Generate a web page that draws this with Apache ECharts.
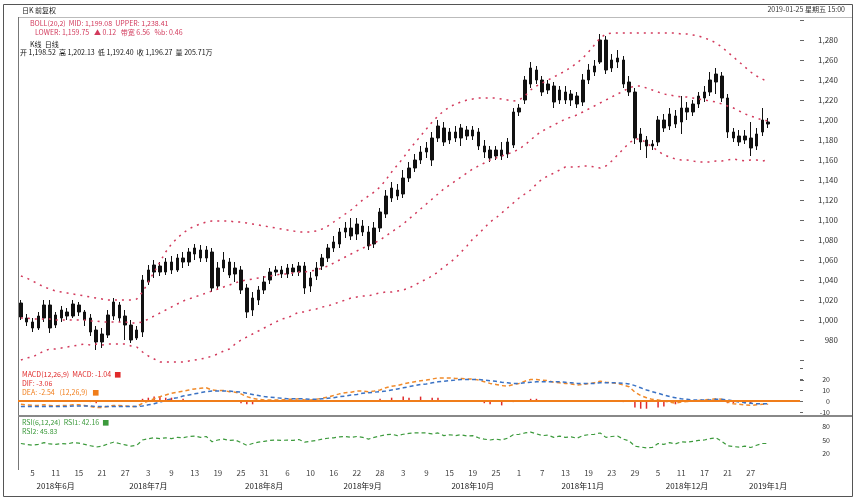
<!DOCTYPE html>
<html>
<head>
<meta charset="utf-8">
<script src="https://cdn.jsdelivr.net/npm/echarts@6/dist/echarts.min.js"></script>
<style>
  html, body { margin: 0; padding: 0; background: #fff; }
  #chart { width: 861px; height: 501px; }
</style>
</head>
<body>
<div id="chart"></div>
<script>
  // 日K：[开, 收, 低, 高]
  var ohlc = [
    [1003,1017,1000,1020],[1002,998,994,1006],[998,992,988,1002],[992,1004,990,1008],[1002,1015,998,1020],
    [1015,992,987,1020],[995,1005,992,1008],[1002,1010,998,1014],[1008,1004,1000,1012],[1004,1016,1002,1020],
    [1015,1008,1004,1018],[1008,1000,994,1010],[1002,988,984,1006],[990,978,970,994],[978,986,972,992],
    [985,1005,982,1010],[1004,1018,1000,1022],[1015,1002,998,1018],[1004,995,980,1010],[995,980,977,1000],
    [982,990,980,994],[988,1040,983,1045],[1038,1050,1035,1055],[1048,1055,1042,1060],[1054,1048,1044,1058],
    [1048,1058,1045,1062],[1058,1050,1046,1064],[1050,1062,1048,1066],[1062,1058,1052,1068],[1058,1068,1054,1072],
    [1066,1072,1060,1076],[1070,1062,1058,1075],[1062,1070,1058,1074],[1068,1032,1028,1072],[1034,1052,1030,1058],
    [1052,1060,1048,1068],[1058,1045,1042,1062],[1046,1052,1038,1058],[1050,1030,1026,1054],[1032,1008,1002,1036],
    [1010,1022,1004,1028],[1020,1030,1015,1034],[1030,1038,1026,1044],[1040,1048,1036,1052],[1048,1050,1044,1054],
    [1050,1046,1042,1054],[1046,1052,1042,1056],[1052,1048,1044,1056],[1048,1054,1044,1058],[1054,1032,1026,1058],
    [1034,1042,1028,1048],[1044,1052,1040,1058],[1054,1062,1050,1066],[1062,1072,1058,1076],[1072,1078,1068,1084],
    [1076,1088,1072,1092],[1088,1092,1082,1098],[1092,1084,1080,1102],[1086,1096,1080,1102],[1094,1088,1084,1100],
    [1088,1074,1070,1094],[1076,1092,1072,1098],[1092,1108,1088,1112],[1106,1124,1102,1130],[1122,1132,1118,1138],
    [1130,1124,1120,1136],[1126,1142,1122,1150],[1142,1152,1138,1158],[1152,1160,1148,1166],[1160,1168,1156,1174],
    [1168,1172,1162,1178],[1160,1182,1154,1188],[1182,1194,1178,1200],[1192,1178,1174,1198],[1180,1188,1176,1192],
    [1188,1182,1178,1194],[1182,1192,1174,1196],[1190,1184,1180,1194],[1184,1190,1180,1194],[1188,1174,1170,1192],
    [1174,1168,1162,1180],[1170,1162,1158,1174],[1164,1170,1160,1174],[1170,1164,1160,1178],[1166,1178,1162,1182],
    [1175,1208,1172,1212],[1208,1212,1204,1216],[1220,1240,1216,1244],[1236,1252,1232,1258],[1250,1240,1236,1254],
    [1240,1228,1224,1244],[1230,1236,1226,1240],[1234,1218,1212,1238],[1220,1230,1216,1234],[1228,1220,1216,1234],
    [1220,1226,1214,1230],[1224,1216,1212,1228],[1218,1240,1214,1246],[1240,1250,1236,1256],[1248,1254,1244,1260],
    [1258,1280,1256,1286],[1280,1250,1246,1284],[1252,1260,1248,1266],[1258,1262,1252,1270],[1260,1236,1232,1264],
    [1238,1228,1224,1244],[1228,1182,1176,1232],[1186,1178,1170,1192],[1180,1174,1162,1184],[1174,1176,1170,1180],
    [1178,1200,1174,1204],[1200,1192,1188,1206],[1194,1206,1190,1212],[1204,1196,1192,1210],[1198,1212,1186,1224],
    [1212,1208,1200,1218],[1208,1216,1204,1220],[1216,1224,1212,1228],[1222,1228,1218,1234],[1228,1240,1224,1248],
    [1238,1246,1226,1252],[1244,1222,1218,1248],[1222,1188,1182,1226],[1188,1182,1178,1192],[1184,1178,1174,1190],
    [1180,1184,1176,1190],[1182,1172,1164,1198],[1174,1186,1170,1192],[1188,1200,1184,1212],[1198,1196,1192,1202]
  ];

  // BOLL 上轨 / 中轨 / 下轨
  var bollUpper = [
    1044,1042,1039,1036,1033,1031,1029,1028,1027,1026,
    1025,1024,1023,1022,1021,1020,1020,1020,1020,1020,
    1021,1028,1038,1048,1058,1068,1076,1082,1087,1091,
    1094,1096,1098,1099,1099,1099,1099,1098,1098,1097,
    1096,1095,1094,1093,1092,1091,1090,1089,1088,1088,
    1088,1089,1091,1094,1098,1102,1106,1110,1115,1120,
    1124,1128,1133,1140,1148,1155,1162,1170,1177,1184,
    1191,1198,1204,1209,1213,1216,1218,1220,1221,1222,
    1222,1222,1222,1221,1220,1219,1220,1224,1230,1234,
    1237,1240,1243,1246,1249,1253,1257,1262,1268,1275,
    1282,1286,1287,1287,1287,1287,1287,1287,1287,1287,
    1287,1287,1287,1287,1286,1286,1285,1284,1282,1280,
    1277,1273,1268,1263,1258,1253,1248,1244,1241,1238
  ];
  var bollMid = [
    1002,1002,1001,1001,1001,1001,1000,1000,1000,1000,
    1000,1000,999,999,998,998,998,998,998,997,
    997,998,1001,1004,1007,1010,1013,1016,1019,1021,
    1023,1025,1027,1029,1031,1033,1035,1037,1039,1040,
    1041,1042,1043,1044,1045,1046,1046,1047,1048,1048,
    1049,1050,1052,1054,1057,1060,1063,1066,1069,1072,
    1074,1077,1080,1084,1088,1092,1096,1101,1106,1111,
    1116,1121,1126,1131,1135,1139,1143,1147,1151,1154,
    1157,1160,1162,1164,1166,1168,1171,1175,1180,1185,
    1189,1192,1195,1198,1201,1203,1205,1208,1211,1214,
    1217,1220,1223,1226,1229,1232,1234,1234,1232,1230,
    1228,1226,1225,1224,1223,1223,1222,1221,1220,1219,
    1218,1216,1214,1212,1209,1206,1204,1202,1200,1199
  ];
  var bollLower = [
    960,962,963,966,969,971,971,972,973,974,
    975,976,975,976,975,976,976,976,976,974,
    973,968,964,961,958,958,958,958,958,959,
    960,961,962,964,966,969,971,976,980,983,
    986,989,992,995,998,1001,1002,1005,1008,1008,
    1010,1011,1013,1014,1016,1018,1020,1022,1023,1024,
    1024,1026,1027,1028,1028,1029,1030,1032,1035,1038,
    1041,1044,1048,1053,1057,1062,1068,1074,1081,1086,
    1092,1098,1102,1107,1112,1117,1122,1126,1130,1136,
    1141,1144,1147,1150,1153,1153,1153,1154,1154,1153,
    1152,1154,1159,1165,1171,1177,1181,1181,1177,1173,
    1169,1165,1163,1161,1160,1160,1159,1158,1158,1158,
    1159,1159,1160,1161,1160,1159,1160,1160,1159,1160
  ];

  // MACD
  var dif = [
    -3,-3.5,-4,-4,-3.5,-4,-4.5,-4,-4,-3.5,
    -3.5,-4,-5,-6,-6,-5,-4,-4,-4.5,-5,
    -5,-2,0,2,4,5.5,7,8,9,10,
    11,11.5,12,10,9.5,9.5,8.5,8,6.5,4,
    2.5,1.5,1,1,1,1,1.5,1.5,2,1,
    1,1.5,2.5,3.5,5,6.5,7.5,8,9,9,
    8.5,9,10,12,13.5,14,15.5,16.5,17.5,18.5,
    19,20,21,21,21,20.5,20.5,20,20,19,
    17.5,16,15,14,13.5,15,16,18,19.5,19.5,
    19,18.5,17,16.5,16,15.5,14.5,15,16,16.5,
    18,17,16.5,16,14.5,13,8,5,3,1.5,
    1,0,-1,-2,-1,-0.5,0,0.5,1,1.5,
    2,1.5,-1,-2.5,-3,-3.5,-4,-3.5,-3,-3
  ];
  var dea = [
    -5,-5,-5,-5,-5,-5,-5,-5,-5,-4.5,
    -4.5,-4.5,-4.5,-5,-5,-5,-5,-5,-5,-5,
    -5,-4.5,-3.5,-2.5,-1,0.5,2,3,4.5,5.5,
    6.5,7.5,8.5,9,9,9,9,8.5,8,7,
    6,5,4,3.5,3,2.5,2,2,2,2,
    1.5,1.5,2,2.5,3,4,4.5,5.5,6,7,
    7.5,8,8.5,9,10,11,12,13,14,15,
    15.5,16.5,17.5,18,18.5,19,19.5,19.5,19.5,19.5,
    19,18.5,18,17,16.5,16,16,16.5,17,17.5,
    17.5,17.5,17.5,17.5,17,16.5,16,16,16,16,
    16.5,16.5,16.5,16.5,16,15.5,14,12,10,8.5,
    7,5.5,4,3,2,1.5,1,1,1,1,
    1.5,1.5,1,0,-1,-1.5,-2,-2.5,-2.5,-2.5
  ];
  var macdBar = [
    0,0,0,0,0,0,0,0,0,0,
    0,0,-1,-2,0,0,0,0,0,0,
    0,2,3,4,4,3,3,0,2,0,
    0,0,0,-1,0,0,0,0,-2,-3,
    -3,0,0,0,0,0,0,0,0,0,
    0,0,0,1,0,0,0,0,0,0,
    0,0,2,0,3,0,4,3,0,4,
    0,3,3,0,0,0,0,0,0,0,
    -2,-3,0,-4,0,-1,0,0,2,2,
    0,0,0,0,0,0,-1,0,0,0,
    1,0,0,0,-1,0,-6,-7,-7,0,
    -6,-5,0,-3,0,0,0,0,1,0,
    0,0,-2,-2,0,-2,-2,0,0,0
  ];

  // RSI
  var rsi = [
    42,40,38,40,44,41,40,42,41,44,
    43,40,37,34,36,41,45,42,39,36,
    38,50,53,55,53,55,53,56,55,58,
    59,56,58,46,50,52,49,50,44,38,
    42,45,47,49,50,49,50,49,51,45,
    47,49,52,54,55,57,58,56,58,56,
    52,56,59,62,63,60,63,65,66,66,
    66,64,66,60,62,60,62,59,60,55,
    52,50,52,50,54,62,63,66,68,64,
    60,61,56,59,56,57,54,60,62,63,
    66,56,58,59,52,48,36,34,32,33,
    42,40,44,41,46,45,47,49,50,53,
    55,47,37,35,34,36,33,38,42,42
  ];

  // 横轴刻度：每4根K线一个日期，月份标签
  var dayTicks = [5,11,15,21,27,3,9,13,19,25,31,6,10,16,22,28,3,9,15,19,25,1,7,13,19,23,29,5,11,17,21,27];
  var monthIdx = [6,22,42,59,78,97,115,129];
  var monthNames = ['2018年6月','2018年7月','2018年8月','2018年9月','2018年10月','2018年11月','2018年12月','2019年1月'];

  var categories = [];
  for (var i = 0; i < ohlc.length + 5; i++) categories.push(String(i));

  var FONT = '"Noto Sans CJK SC", "Noto Sans", sans-serif';
  var RED = '#d23a5c';

  function xLabel(v, idx) {
    var day = (idx % 4 === 2) ? dayTicks[(idx - 2) / 4] : undefined;
    var m = monthIdx.indexOf(idx);
    var top = day !== undefined ? '{d|' + day + '}' : '{d| }';
    if (m >= 0) return top + '\n{m|' + monthNames[m] + '}';
    return day !== undefined ? top : '';
  }

  function txt(text, x, y, color, size, extra) {
    var s = { text: text, x: x, y: y, fill: color, font: (size || 7) + 'px ' + FONT };
    if (extra) for (var k in extra) s[k] = extra[k];
    return { type: 'text', z: 10, style: s };
  }

  var chart = echarts.init(document.getElementById('chart'));
  chart.setOption({
    animation: false,
    backgroundColor: '#fff',
    textStyle: { fontFamily: FONT },
    grid: [
      { left: 18, right: 61, top: 20, height: 360 },
      { left: 18, right: 61, top: 368, height: 44 },
      { left: 18, right: 61, top: 418, height: 44 }
    ],
    xAxis: [
      { type: 'category', gridIndex: 0, data: categories, axisLine: { show: false }, axisTick: { show: false }, axisLabel: { show: false } },
      { type: 'category', gridIndex: 1, data: categories, axisLine: { show: false }, axisTick: { show: false }, axisLabel: { show: false } },
      {
        type: 'category', gridIndex: 2, data: categories,
        axisLine: { show: false }, axisTick: { show: false },
        axisLabel: {
          interval: 0, margin: 4, formatter: xLabel,
          rich: {
            d: { fontSize: 8, color: '#444', lineHeight: 13, fontFamily: FONT },
            m: { fontSize: 8, color: '#222', lineHeight: 13, fontFamily: FONT }
          }
        }
      }
    ],
    yAxis: [
      {
        type: 'value', gridIndex: 0, position: 'right', min: 940, max: 1300, interval: 20,
        axisLine: { show: false }, splitLine: { show: false },
        axisTick: { show: true, length: 4, lineStyle: { color: '#666' } },
        axisLabel: {
          align: 'right', margin: 38, fontSize: 8, color: '#333',
          formatter: function (v) { return (v < 980 || v > 1280) ? '' : v.toLocaleString('en-US'); }
        }
      },
      {
        type: 'value', gridIndex: 1, position: 'right', min: -10, max: 30, interval: 10,
        axisLine: { show: false }, splitLine: { show: false },
        axisTick: { show: true, length: 3, lineStyle: { color: '#666' } },
        axisLabel: {
          align: 'right', margin: 30, fontSize: 7, color: '#333',
          formatter: function (v) { return v === 30 ? '' : String(v); }
        }
      },
      {
        type: 'value', gridIndex: 2, position: 'right', min: 0, max: 100, interval: 10,
        axisLine: { show: false }, splitLine: { show: false }, axisTick: { show: false },
        axisLabel: {
          align: 'right', margin: 30, fontSize: 7, color: '#333',
          formatter: function (v) { return (v === 20 || v === 50 || v === 80) ? String(v) : ''; }
        }
      }
    ],
    series: [
      {
        name: 'K线', type: 'candlestick', xAxisIndex: 0, yAxisIndex: 0, data: ohlc, barWidth: 3,
        itemStyle: { color: '#111', color0: '#111', borderColor: '#111', borderColor0: '#111', borderWidth: 1 }
      },
      { name: 'UPPER', type: 'line', xAxisIndex: 0, yAxisIndex: 0, data: bollUpper, symbol: 'none',
        lineStyle: { color: RED, width: 1.5, type: [2, 5] } },
      { name: 'MID', type: 'line', xAxisIndex: 0, yAxisIndex: 0, data: bollMid, symbol: 'none',
        lineStyle: { color: RED, width: 1.5, type: [2, 5] } },
      { name: 'LOWER', type: 'line', xAxisIndex: 0, yAxisIndex: 0, data: bollLower, symbol: 'none',
        lineStyle: { color: RED, width: 1.5, type: [2, 5] } },
      {
        name: 'MACD', type: 'bar', xAxisIndex: 1, yAxisIndex: 1, data: macdBar, barWidth: 1.5,
        itemStyle: { color: '#e02a2a' },
        markLine: {
          silent: true, symbol: 'none', label: { show: false },
          lineStyle: { color: '#f07d1a', width: 2, type: 'solid' },
          data: [{ yAxis: 0 }]
        }
      },
      { name: 'DIF', type: 'line', xAxisIndex: 1, yAxisIndex: 1, data: dif, symbol: 'none',
        lineStyle: { color: '#f08a2a', width: 1.5, type: [4, 3] } },
      { name: 'DEA', type: 'line', xAxisIndex: 1, yAxisIndex: 1, data: dea, symbol: 'none',
        lineStyle: { color: '#3a72c4', width: 1.5, type: [4, 3] } },
      { name: 'RSI', type: 'line', xAxisIndex: 2, yAxisIndex: 2, data: rsi, symbol: 'none',
        lineStyle: { color: '#3c9a3c', width: 1.2, type: [4, 3] } }
    ],
    graphic: [
      { type: 'rect', shape: { x: 3.5, y: 4.5, width: 849, height: 492 }, style: { fill: 'none', stroke: '#555', lineWidth: 1 } },
      { type: 'line', shape: { x1: 18, y1: 17.5, x2: 852, y2: 17.5 }, style: { stroke: '#bbb', lineWidth: 1 } },
      { type: 'line', shape: { x1: 18.5, y1: 17, x2: 18.5, y2: 470 }, style: { stroke: '#777', lineWidth: 1 } },
      { type: 'line', shape: { x1: 18, y1: 416, x2: 852, y2: 416 }, style: { stroke: '#888', lineWidth: 2 } },
      txt('日K 前复权', 22, 7, '#222', 7),
      txt('2019-01-25 星期五 15:00', 845, 6, '#333', 7, { align: 'right' }),
      txt('BOLL(20,2)  MID: 1,199.08  UPPER: 1,238.41', 30, 20, RED, 7),
      txt('LOWER: 1,159.75   ▲ 0.12   带宽 6.56   %b: 0.46', 35, 29, RED, 7),
      txt('K线  日线', 30, 41, '#222', 7),
      txt('开 1,198.52  高 1,202.13  低 1,192.40  收 1,196.27  量 205.71万', 20, 49, '#111', 7),
      txt('MACD(12,26,9)  MACD: -1.04  ■', 22, 371, '#e02a2a', 7),
      txt('DIF: -3.06', 22, 380, '#e02a2a', 7),
      txt('DEA: -2.54   (12,26,9)   ■', 22, 389, '#f07d1a', 7),
      txt('RSI(6,12,24)  RSI1: 42.16  ■', 22, 419, '#3c9a3c', 7),
      txt('RSI2: 45.83', 22, 428, '#3c9a3c', 7)
    ]
  });
</script>
</body>
</html>
